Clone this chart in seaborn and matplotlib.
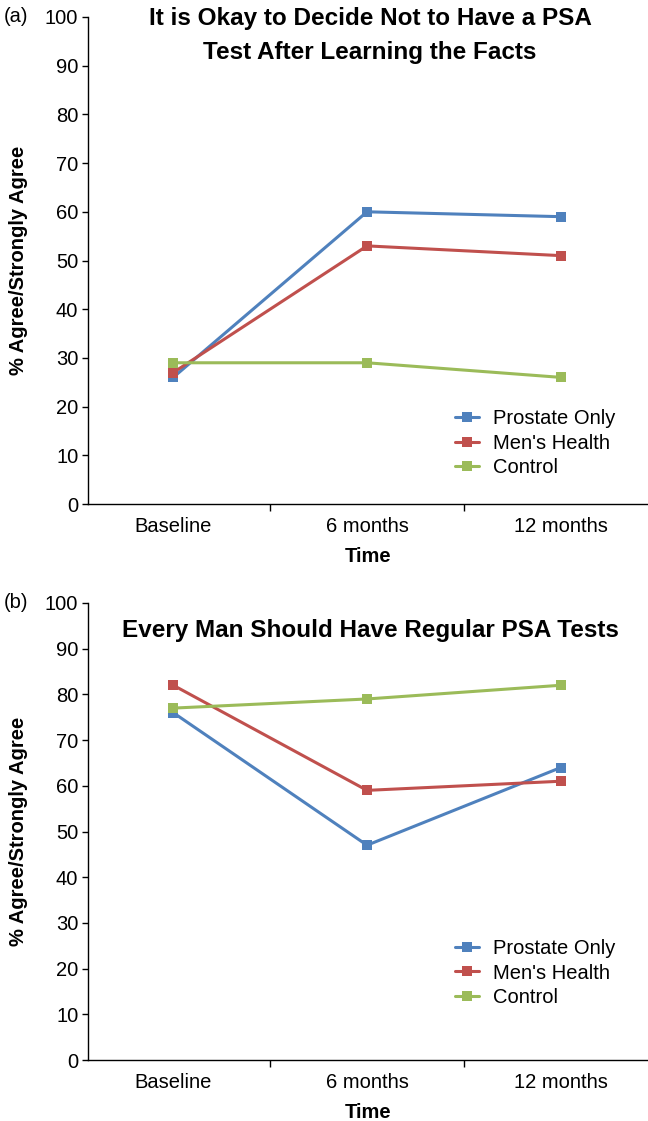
import pandas as pd
import matplotlib
matplotlib.use("Agg")
import matplotlib.pyplot as plt
import seaborn as sns

# data
times = ["Baseline", "6 months", "12 months"]
groups = ["Prostate Only", "Men's Health", "Control"]
colors = ["#4F81BD", "#C0504D", "#9BBB59"]

okay_prostate = [26, 60, 59]
okay_mens = [27, 53, 51]
okay_control = [29, 29, 26]

regular_prostate = [76, 47, 64]
regular_mens = [82, 59, 61]
regular_control = [77, 79, 82]

yticks = list(range(0, 101, 10))


def make_df(p, m, c):
    rows = []
    for g, vals in zip(groups, [p, m, c]):
        for i, v in enumerate(vals):
            rows.append({"pos": i, "value": v, "group": g})
    return pd.DataFrame(rows)


sns.set_style("white")
plt.rcParams["font.family"] = ["Liberation Sans", "DejaVu Sans"]
plt.rcParams["text.color"] = "black"
plt.rcParams["axes.labelcolor"] = "black"
plt.rcParams["xtick.color"] = "black"
plt.rcParams["ytick.color"] = "black"

W, H = 648, 1121
fig = plt.figure(figsize=(W / 100, H / 100), dpi=100)
ax_a = fig.add_axes([88 / W, 1 - 504 / H, 1 - 88 / W, 487 / H])
ax_b = fig.add_axes([88 / W, 1 - 1060 / H, 1 - 88 / W, 457 / H])

panels = [
    (ax_a, make_df(okay_prostate, okay_mens, okay_control), "(a)", 0.195),
    (ax_b, make_df(regular_prostate, regular_mens, regular_control), "(b)", 0.265),
]

for ax, df, tag, leg_y in panels:
    sns.lineplot(data=df, x="pos", y="value", hue="group", hue_order=groups,
                 palette=colors, marker="s", markersize=6.5, markeredgewidth=0,
                 linewidth=2.2, ax=ax)
    ax.set_xlim(-0.44, 2.45)
    ax.set_ylim(0, 100)
    ax.set_yticks(yticks)
    ax.set_xticks([0, 1, 2])
    ax.set_xticklabels(times)
    ax.set_xticks([0.5, 1.5], minor=True)
    ax.tick_params(axis="x", which="major", length=0, labelsize=14.5, pad=9)
    ax.tick_params(axis="x", which="minor", length=5, width=1, direction="out")
    ax.tick_params(axis="y", length=4, width=1, direction="out", labelsize=14.5, pad=3)
    ax.tick_params(left=True, bottom=True, which="both")
    for s in ["top", "right"]:
        ax.spines[s].set_visible(False)
    for s in ["left", "bottom"]:
        ax.spines[s].set_color("black")
        ax.spines[s].set_linewidth(1)
    ax.set_xlabel("Time", fontsize=14.5, fontweight="bold", labelpad=8)
    ax.set_ylabel("% Agree/Strongly Agree", fontsize=14.5, fontweight="bold", labelpad=12)
    ax.text(-0.15, 1.0, tag, transform=ax.transAxes, fontsize=14.5, va="center", ha="left")
    ax.legend(loc="upper left", bbox_to_anchor=(0.655, leg_y), frameon=False,
              fontsize=14.5, handlelength=1.2, handletextpad=0.7, labelspacing=0.28,
              borderpad=0, borderaxespad=0)

# titles
fig.text(370 / W, 1 - 18 / H, "It is Okay to Decide Not to Have a PSA",
         fontsize=17.5, fontweight="bold", ha="center", va="center")
fig.text(370 / W, 1 - 52 / H, "Test After Learning the Facts",
         fontsize=17.5, fontweight="bold", ha="center", va="center")
fig.text(370 / W, 1 - 630 / H, "Every Man Should Have Regular PSA Tests",
         fontsize=17.5, fontweight="bold", ha="center", va="center")

fig.savefig("out.png", dpi=100)
